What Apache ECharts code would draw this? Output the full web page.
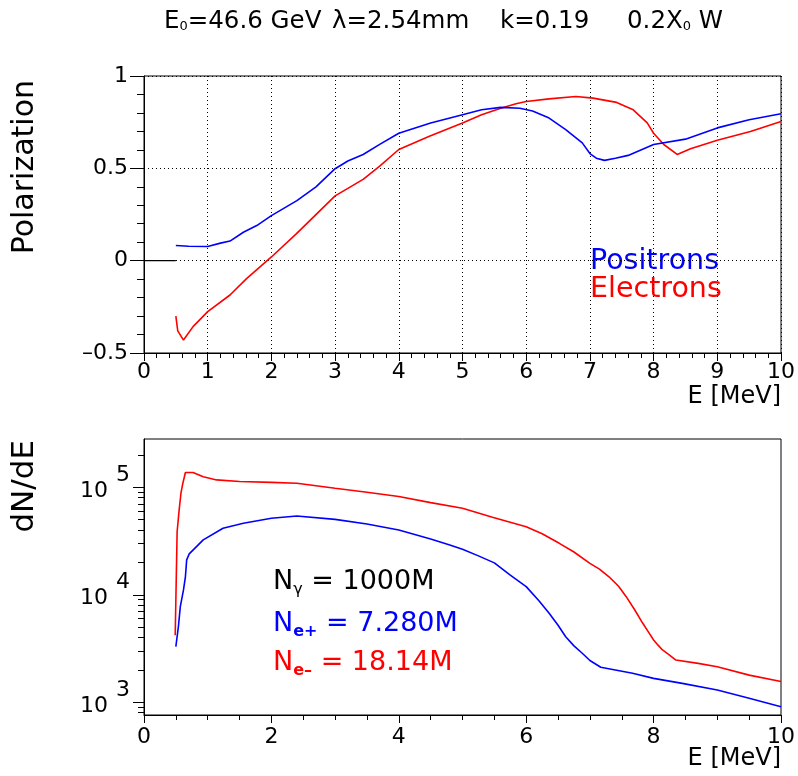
<!DOCTYPE html>
<html><head><meta charset="utf-8">
<script src="https://cdn.jsdelivr.net/npm/echarts@6/dist/echarts.min.js"></script>
<style>html,body{margin:0;padding:0;background:#fff}#c{width:798px;height:776px}</style>
</head><body><div id="c"></div>
<script>
const FONT = 'DejaVu Sans';

// ---- Top panel: polarization vs E [MeV] ----
const posPolE = [0.5, 0.7, 1.0, 1.2, 1.35, 1.56, 1.77, 2.0, 2.4, 2.7, 3.0, 3.2, 3.44, 3.7, 4.0, 4.5, 5.0, 5.3, 5.6, 5.9, 6.1, 6.36, 6.62, 6.88, 7.0, 7.1, 7.23, 7.4, 7.6, 8.0, 8.5, 9.0, 9.5, 10.0];
const posPolV = [0.082, 0.078, 0.077, 0.095, 0.106, 0.154, 0.19, 0.244, 0.325, 0.40, 0.498, 0.54, 0.575, 0.63, 0.69, 0.745, 0.79, 0.817, 0.83, 0.825, 0.81, 0.772, 0.71, 0.638, 0.58, 0.555, 0.543, 0.555, 0.57, 0.629, 0.658, 0.719, 0.763, 0.796];
const elePolE = [0.5, 0.53, 0.62, 0.77, 1.0, 1.35, 1.61, 2.0, 2.39, 3.0, 3.44, 3.7, 4.0, 4.48, 5.0, 5.3, 5.6, 5.84, 6.0, 6.36, 6.78, 7.05, 7.42, 7.68, 7.9, 8.0, 8.16, 8.37, 8.58, 9.0, 9.52, 10.0];
const elePolV = [-0.30, -0.38, -0.43, -0.357, -0.276, -0.186, -0.097, 0.02, 0.145, 0.351, 0.44, 0.512, 0.602, 0.674, 0.745, 0.79, 0.825, 0.85, 0.862, 0.876, 0.889, 0.88, 0.857, 0.817, 0.746, 0.69, 0.629, 0.575, 0.606, 0.652, 0.70, 0.754];
const emptyBinsE = [0, 0.5];
const emptyBinsV = [0, 0];

// ---- Bottom panel: dN/dE vs E [MeV] ----
const eleSpecE = [0.49, 0.52, 0.55, 0.58, 0.61, 0.65, 0.77, 0.93, 1.14, 1.5, 2.0, 2.4, 3.0, 3.5, 4.0, 4.5, 5.0, 5.47, 6.0, 6.25, 6.52, 6.75, 7.0, 7.15, 7.3, 7.45, 7.57, 7.7, 7.83, 7.92, 8.0, 8.07, 8.14, 8.25, 8.35, 8.7, 9.0, 9.5, 10.0];
const eleSpecV = [4200, 38600, 60000, 88000, 109000, 137000, 137000, 125000, 117000, 113000, 111000, 109000, 98000, 90000, 81900, 72000, 63800, 52600, 43000, 37000, 30100, 25000, 19600, 17300, 14700, 12000, 9600, 7300, 5430, 4500, 3800, 3400, 3070, 2750, 2470, 2300, 2140, 1790, 1560];
const posSpecE = [0.5, 0.54, 0.57, 0.62, 0.65, 0.67, 0.71, 0.93, 1.24, 1.56, 2.0, 2.4, 3.0, 3.5, 4.0, 4.5, 4.8, 5.0, 5.25, 5.5, 5.75, 6.0, 6.2, 6.36, 6.5, 6.62, 6.75, 6.88, 7.0, 7.17, 7.67, 8.0, 8.45, 9.0, 9.5, 10.0];
const posSpecV = [3290, 5050, 7750, 11100, 14700, 21100, 24000, 32400, 41600, 46300, 51500, 54100, 50300, 45500, 40100, 33000, 29000, 26500, 23000, 19800, 15200, 11900, 8800, 6730, 5200, 4070, 3350, 2860, 2450, 2120, 1860, 1670, 1500, 1300, 1090, 910];

// ---- Axis ticks ----
const logMajorTicks = [1000, 10000, 100000];
const logMinorTicks = [800, 900, 2000, 3000, 4000, 5000, 6000, 7000, 8000, 9000, 20000, 30000, 40000, 50000, 60000, 70000, 80000, 90000, 200000];
const logMin = 762, logMax = 281000;

const zip = (a, b) => a.map((x, i) => [x, b[i]]);
const BLUE = '#0000ff', RED = '#ff0000';

const chart = echarts.init(document.getElementById('c'), null, {renderer: 'canvas'});
const lbl = {color: '#000', fontFamily: FONT, fontSize: 22};

const option = {
  animation: false,
  backgroundColor: '#fff',
  grid: [
    {left: 144, top: 76, width: 638, height: 277, show: true, borderColor: '#000', borderWidth: 1, backgroundColor: 'transparent'},
    {left: 144, top: 439, width: 638, height: 276, show: true, borderColor: '#000', borderWidth: 1, backgroundColor: 'transparent'}
  ],
  xAxis: [
    {gridIndex: 0, type: 'value', min: 0, max: 10, interval: 1,
     axisLine: {show: true, onZero: false, lineStyle: {color: '#000'}},
     axisTick: {show: true, length: 8, lineStyle: {color: '#000'}},
     minorTick: {show: true, splitNumber: 5, length: 5, lineStyle: {color: '#000'}},
     splitLine: {show: true, lineStyle: {color: '#000', width: 1, type: [1, 3]}},
     axisLabel: Object.assign({margin: 8}, lbl)},
    {gridIndex: 1, type: 'value', min: 0, max: 10, interval: 2,
     axisLine: {show: true, onZero: false, lineStyle: {color: '#000'}},
     axisTick: {show: true, length: 8, lineStyle: {color: '#000'}},
     minorTick: {show: true, splitNumber: 4, length: 5, lineStyle: {color: '#000'}},
     splitLine: {show: false},
     axisLabel: Object.assign({margin: 11}, lbl)}
  ],
  yAxis: [
    {gridIndex: 0, type: 'value', min: -0.5, max: 1, interval: 0.5,
     axisLine: {show: true, onZero: false, lineStyle: {color: '#000'}},
     axisTick: {show: true, length: 14, lineStyle: {color: '#000'}},
     minorTick: {show: true, splitNumber: 5, length: 7, lineStyle: {color: '#000'}},
     splitLine: {show: true, lineStyle: {color: '#000', width: 1, type: [1, 3]}},
     axisLabel: Object.assign({margin: 16, formatter: v => v < 0 ? '\u2013' + Math.abs(v) : String(v)}, lbl)},
    {gridIndex: 1, type: 'log', logBase: 10, min: logMin, max: logMax,
     axisLine: {show: true, onZero: false, lineStyle: {color: '#000'}},
     axisTick: {show: true, length: 11, customValues: logMajorTicks, lineStyle: {color: '#000', width: 1}},
     splitLine: {show: false},
     axisLabel: {margin: 14, customValues: logMajorTicks,
       formatter: v => '{b|10}{e|' + Math.round(Math.log10(v)) + '}',
       rich: {
         b: {fontFamily: FONT, fontSize: 22, color: '#000', padding: [8, 0, 0, 0]},
         e: {fontFamily: FONT, fontSize: 22, color: '#000', padding: [0, 0, 24, 8]}
       }}},
    {gridIndex: 1, type: 'log', logBase: 10, min: logMin, max: logMax, position: 'left', offset: 0,
     axisLine: {show: false},
     axisTick: {show: true, length: 6, customValues: logMinorTicks, lineStyle: {color: '#000', width: 1}},
     splitLine: {show: false},
     axisLabel: {show: false}}
  ],
  series: [
    {type: 'line', xAxisIndex: 0, yAxisIndex: 0, data: zip(emptyBinsE, emptyBinsV), showSymbol: false, lineStyle: {color: '#000', width: 1.2}, z: 3},
    {type: 'line', xAxisIndex: 0, yAxisIndex: 0, data: zip(elePolE, elePolV), showSymbol: false, lineStyle: {color: RED, width: 1.6}, z: 4},
    {type: 'line', xAxisIndex: 0, yAxisIndex: 0, data: zip(posPolE, posPolV), showSymbol: false, lineStyle: {color: BLUE, width: 1.6}, z: 5},
    {type: 'line', xAxisIndex: 1, yAxisIndex: 1, data: zip(eleSpecE, eleSpecV), showSymbol: false, lineStyle: {color: RED, width: 1.6}, z: 4},
    {type: 'line', xAxisIndex: 1, yAxisIndex: 1, data: zip(posSpecE, posSpecV), showSymbol: false, lineStyle: {color: BLUE, width: 1.6}, z: 5}
  ],
  graphic: [
    {type: 'text', x: 164, y: 22, style: {text: '{n|E}{s|0}{n|=46.6 GeV}', verticalAlign: 'middle',
      rich: {n: {fontFamily: FONT, fontSize: 24.5, fill: '#000'}, s: {fontFamily: FONT, fontSize: 13, fill: '#000', padding: [9, 0, 0, 0]}}}},
    {type: 'text', x: 332, y: 22, style: {text: '\u03bb=2.54mm', verticalAlign: 'middle', fontFamily: FONT, fontSize: 24.5, fill: '#000'}},
    {type: 'text', x: 500, y: 22, style: {text: 'k=0.19', verticalAlign: 'middle', fontFamily: FONT, fontSize: 24.5, fill: '#000'}},
    {type: 'text', x: 627, y: 22, style: {text: '{n|0.2X}{s|0}{n| W}', verticalAlign: 'middle',
      rich: {n: {fontFamily: FONT, fontSize: 24.5, fill: '#000'}, s: {fontFamily: FONT, fontSize: 13, fill: '#000', padding: [9, 0, 0, 0]}}}},
    {type: 'text', x: 25, y: 80, rotation: Math.PI / 2, style: {text: 'Polarization', align: 'right', verticalAlign: 'middle', fontFamily: FONT, fontSize: 30, fill: '#000'}},
    {type: 'text', x: 25, y: 440, rotation: Math.PI / 2, style: {text: 'dN/dE', align: 'right', verticalAlign: 'middle', fontFamily: FONT, fontSize: 31, fill: '#000'}},
    {type: 'text', x: 781, y: 397, style: {text: 'E [MeV]', align: 'right', verticalAlign: 'middle', fontFamily: FONT, fontSize: 24, fill: '#000'}},
    {type: 'text', x: 781, y: 759, style: {text: 'E [MeV]', align: 'right', verticalAlign: 'middle', fontFamily: FONT, fontSize: 24, fill: '#000'}},
    {type: 'text', x: 590, y: 262, style: {text: 'Positrons', verticalAlign: 'middle', fontFamily: FONT, fontSize: 28.5, fill: BLUE}},
    {type: 'text', x: 590, y: 290, style: {text: 'Electrons', verticalAlign: 'middle', fontFamily: FONT, fontSize: 28.5, fill: RED}},
    {type: 'text', x: 273, y: 582, style: {text: '{n|N}{s|\u03b3}{n| = 1000M}', verticalAlign: 'middle',
      rich: {n: {fontFamily: FONT, fontSize: 27, fill: '#000'}, s: {fontFamily: FONT, fontSize: 16, fill: '#000', padding: [16, 0, 0, 0]}}}},
    {type: 'text', x: 273, y: 624, style: {text: '{n|N}{s|e+}{n| = 7.280M}', verticalAlign: 'middle',
      rich: {n: {fontFamily: FONT, fontSize: 27, fill: BLUE}, s: {fontFamily: FONT, fontSize: 16, fontWeight: 'bold', fill: BLUE, padding: [16, 0, 0, 0]}}}},
    {type: 'text', x: 273, y: 663, style: {text: '{n|N}{s|e\u2013}{n| = 18.14M}', verticalAlign: 'middle',
      rich: {n: {fontFamily: FONT, fontSize: 27, fill: RED}, s: {fontFamily: FONT, fontSize: 16, fontWeight: 'bold', fill: RED, padding: [16, 0, 0, 0]}}}}
  ]
};
chart.setOption(option);
</script>
</body></html>
